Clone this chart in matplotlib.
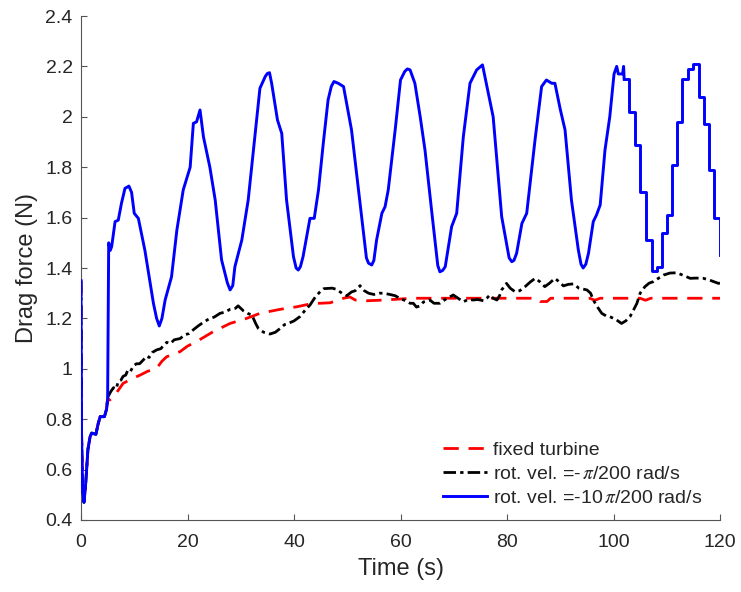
import matplotlib
matplotlib.use("Agg")
import matplotlib.pyplot as plt
import numpy as np

plt.rcParams['font.family'] = ['Liberation Sans', 'DejaVu Sans']
plt.rcParams['mathtext.fontset'] = 'stix'

# ---- data ----
start_t = [0, 0.1, 0.3, 0.56, 0.9, 1.3, 1.7, 2.0, 2.8, 3.2, 3.6, 4.4, 4.8, 5.0]
start_f = [1.35, 0.75, 0.52, 0.47, 0.55, 0.68, 0.73, 0.745, 0.74, 0.78, 0.81, 0.81, 0.84, 0.88]

fixed_t = [5.4, 6.5, 7.9, 9.5, 11.1, 12.5, 14.2, 15.2, 16.1, 18.6, 20.0, 21.7, 24.8, 28.0,
           31.1, 33.6, 37.4, 40.5, 43.6, 44.9, 46.8, 49.3, 50.5, 51.5, 53.6, 56.0, 59.3,
           62.0, 85.5, 86.2, 87.5, 88.2, 95.5, 96.5, 97.5, 105.0, 106.0, 107.0, 120.0]
fixed_f = [0.876, 0.90, 0.942, 0.96, 0.975, 0.99, 1.002, 1.03, 1.048, 1.068, 1.09, 1.108, 1.147, 1.18,
           1.20, 1.22, 1.236, 1.246, 1.26, 1.26, 1.262, 1.28, 1.285, 1.273, 1.27, 1.272, 1.276,
           1.28, 1.28, 1.267, 1.267, 1.28, 1.28, 1.272, 1.28, 1.28, 1.272, 1.28, 1.28]

slow_t = [5.1, 5.6, 6.1, 6.6, 7.0, 7.5, 7.9, 8.4, 8.8, 9.3, 9.8, 10.4, 11.0, 11.7, 12.3, 12.8,
          13.4, 14.2, 15.0, 15.6, 16.1, 16.8, 17.5, 18.6, 19.5, 20.3, 21.1, 22.0, 23.0, 24.2,
          25.0, 26.1, 27.0, 28.0, 29.0, 29.5, 30.5, 31.3, 32.1, 32.8, 33.3, 34.3, 35.5, 36.5,
          37.4, 38.2, 38.9, 40.0, 41.1, 42.0, 43.0, 44.0, 44.9, 45.6, 46.4, 47.2, 48.0, 49.0,
          49.9, 50.8, 51.5, 52.4, 53.2, 54.0, 55.0, 56.0, 56.8, 58.0, 59.0, 60.0, 61.0, 61.8,
          62.4, 63.0, 63.7, 64.3, 65.0, 65.5, 66.3, 67.4, 68.0, 68.8, 69.9, 70.8, 71.8, 72.7,
          73.7, 74.5, 75.6, 76.2, 76.8, 77.4, 78.1, 78.6, 79.0, 79.9, 80.6, 81.5, 82.4, 83.4,
          84.4, 85.3, 86.2, 87.1, 88.0, 89.0, 89.8, 90.6, 91.5, 92.5, 93.5, 95.0, 95.7, 96.2,
          97.0, 97.8, 98.6, 99.3, 100.5, 101.5, 102.3, 103.1, 103.8, 104.4, 105.0, 105.9,
          106.7, 107.5, 108.5, 109.4, 110.6, 111.9, 113.2, 114.4, 115.6, 116.9, 118.3, 119.7, 120.0]
slow_f = [0.89, 0.91, 0.925, 0.92, 0.95, 0.955, 0.97, 0.975, 0.995, 0.99, 1.01, 1.02, 1.02, 1.035,
          1.05, 1.045, 1.065, 1.075, 1.08, 1.095, 1.105, 1.10, 1.115, 1.12, 1.135, 1.14, 1.155,
          1.17, 1.185, 1.20, 1.205, 1.22, 1.225, 1.236, 1.24, 1.25, 1.23, 1.22, 1.213, 1.18, 1.16,
          1.145, 1.138, 1.145, 1.16, 1.175, 1.18, 1.19, 1.207, 1.23, 1.253, 1.285, 1.306, 1.318,
          1.319, 1.32, 1.315, 1.30, 1.29, 1.305, 1.31, 1.33, 1.31, 1.30, 1.295, 1.30, 1.30, 1.295,
          1.29, 1.278, 1.27, 1.26, 1.26, 1.245, 1.25, 1.265, 1.27, 1.273, 1.26, 1.26, 1.27, 1.28,
          1.293, 1.28, 1.266, 1.275, 1.273, 1.275, 1.27, 1.28, 1.293, 1.28, 1.273, 1.29, 1.313,
          1.339, 1.32, 1.306, 1.31, 1.326, 1.345, 1.359, 1.345, 1.326, 1.34, 1.359, 1.345, 1.329,
          1.335, 1.337, 1.32, 1.313, 1.30, 1.273, 1.245, 1.22, 1.21, 1.207, 1.195, 1.18, 1.19,
          1.207, 1.235, 1.26, 1.30, 1.326, 1.34, 1.346, 1.36, 1.372, 1.38, 1.381, 1.37, 1.359,
          1.36, 1.359, 1.35, 1.339, 1.34]

fast_t = [5.2, 5.5, 5.76, 6.4, 7.0, 7.6, 8.26, 9.0, 9.5, 10.0, 10.77, 12.0, 13.6, 14.2, 14.7,
          15.2, 15.8, 17.0, 18.0, 19.2, 20.5, 21.1, 21.7, 22.35, 23.0, 24.2, 25.2, 26.4, 27.5,
          28.0, 28.5, 28.9, 30.2, 31.4, 32.4, 33.6, 34.6, 35.0, 35.4, 35.8, 36.9, 37.7, 38.6,
          39.9, 40.4, 40.8, 41.2, 41.7, 43.0, 43.8, 44.6, 45.5, 46.4, 47.0, 47.5, 48.3, 49.3,
          50.8, 52.4, 53.6, 54.0, 54.6, 55.0, 55.5, 56.5, 57.1, 57.7, 59.0, 60.0, 60.8, 61.3,
          61.8, 62.7, 63.7, 64.6, 65.9, 67.0, 67.4, 67.9, 68.4, 69.6, 70.55, 71.8, 73.05, 74.3,
          75.4, 76.5, 77.4, 79.0, 80.4, 80.9, 81.3, 81.8, 82.8, 83.7, 85.3, 86.5, 87.4, 88.4,
          89.0, 90.0, 90.9, 92.1, 93.4, 93.9, 94.3, 94.8, 95.3, 96.2, 96.8, 97.5, 98.4, 99.3,
          100.1, 100.6, 100.9, 101.2, 101.7, 101.9]
fast_f = [1.50, 1.47, 1.485, 1.584, 1.59, 1.657, 1.716, 1.725, 1.70, 1.617, 1.597, 1.47, 1.26,
          1.20, 1.17, 1.20, 1.273, 1.365, 1.55, 1.71, 1.80, 1.974, 1.98, 2.027, 1.92, 1.80, 1.67,
          1.432, 1.34, 1.313, 1.33, 1.405, 1.511, 1.67, 1.87, 2.113, 2.16, 2.172, 2.175, 2.133,
          1.987, 1.934, 1.67, 1.445, 1.40, 1.392, 1.405, 1.445, 1.597, 1.597, 1.71, 1.895, 2.067,
          2.12, 2.14, 2.133, 2.12, 1.948, 1.657, 1.44, 1.419, 1.412, 1.43, 1.51, 1.617, 1.643,
          1.71, 1.948, 2.146, 2.18, 2.19, 2.186, 2.133, 2.0, 1.868, 1.617, 1.41, 1.385, 1.39,
          1.405, 1.564, 1.617, 1.921, 2.133, 2.186, 2.206, 2.093, 2.0, 1.604, 1.44, 1.425, 1.43,
          1.458, 1.577, 1.617, 1.915, 2.12, 2.146, 2.133, 2.133, 2.03, 1.948, 1.67, 1.471, 1.415,
          1.40, 1.415, 1.458, 1.584, 1.61, 1.65, 1.868, 2.0, 2.17, 2.20, 2.17, 2.17, 2.17, 2.20]

step_t = [102.0, 103.0, 104.0, 105.0, 106.1, 107.2, 108.1, 109.05, 110.0, 110.9, 111.9, 112.9,
          114.05, 115.0, 116.1, 117.05, 118.0, 118.9, 120.0]
step_f = [2.15, 2.02, 1.89, 1.70, 1.51, 1.39, 1.405, 1.54, 1.61, 1.81, 1.98, 2.15, 2.19, 2.21,
          2.08, 1.97, 1.79, 1.60, 1.45]

labels = ['fixed turbine', r'rot. vel. =-$\,\pi$/200 rad/s', r'rot. vel. =-10$\,\pi$/200 rad/s']
xticks = [0, 20, 40, 60, 80, 100, 120]
yticks = [0.4, 0.6, 0.8, 1.0, 1.2, 1.4, 1.6, 1.8, 2.0, 2.2, 2.4]
ytick_labels = ['0.4', '0.6', '0.8', '1', '1.2', '1.4', '1.6', '1.8', '2', '2.2', '2.4']

# ---- figure ----
fig = plt.figure(figsize=(7.41, 5.92), dpi=100)
ax = fig.add_axes([81 / 741, 1 - 520 / 592, 639 / 741, 504 / 592])

red_t = start_t + fixed_t
red_f = start_f + fixed_f
blk_t = start_t + slow_t
blk_f = start_f + slow_f
blu_t = start_t + fast_t + [step_t[0]]
blu_f = start_f + fast_f + [step_f[0]]

l1, = ax.plot(red_t, red_f, color=(1, 0, 0), lw=2.0, linestyle=(0, (5.5, 3.5)), zorder=2)
l2, = ax.plot(blk_t, blk_f, color='black', lw=2.0, linestyle=(0, (4.5, 1.5, 1.2, 1.5)), zorder=3)
l3, = ax.plot(blu_t, blu_f, color=(0, 0, 1), lw=2.1, zorder=4)
ax.step(step_t, step_f, where='post', color=(0, 0, 1), lw=2.1, zorder=4)

ax.set_xlim(0, 120)
ax.set_ylim(0.4, 2.4)
ax.set_xticks(xticks)
ax.set_yticks(yticks)
ax.set_yticklabels(ytick_labels)

for s in ['top', 'right']:
    ax.spines[s].set_visible(False)
for s in ['left', 'bottom']:
    ax.spines[s].set_color('#555555')
    ax.spines[s].set_linewidth(0.8)
ax.tick_params(direction='in', length=4.5, width=0.8, color='#555555',
               labelsize=14, labelcolor='#262626')
ax.tick_params(axis='x', pad=10)
ax.tick_params(axis='y', pad=6)

ax.set_xlabel('Time (s)', fontsize=17, color='#262626', labelpad=5)
ax.set_ylabel('Drag force (N)', fontsize=17, color='#262626', labelpad=5)

leg = ax.legend([l1, l2, l3], labels, loc='lower left', bbox_to_anchor=(0.566, 0.026),
                frameon=False, fontsize=14, handlelength=2.3, handletextpad=0.3,
                labelspacing=0.33, borderpad=0, borderaxespad=0)
for t in leg.get_texts():
    t.set_color('#262626')

fig.savefig('out.png', dpi=100)
